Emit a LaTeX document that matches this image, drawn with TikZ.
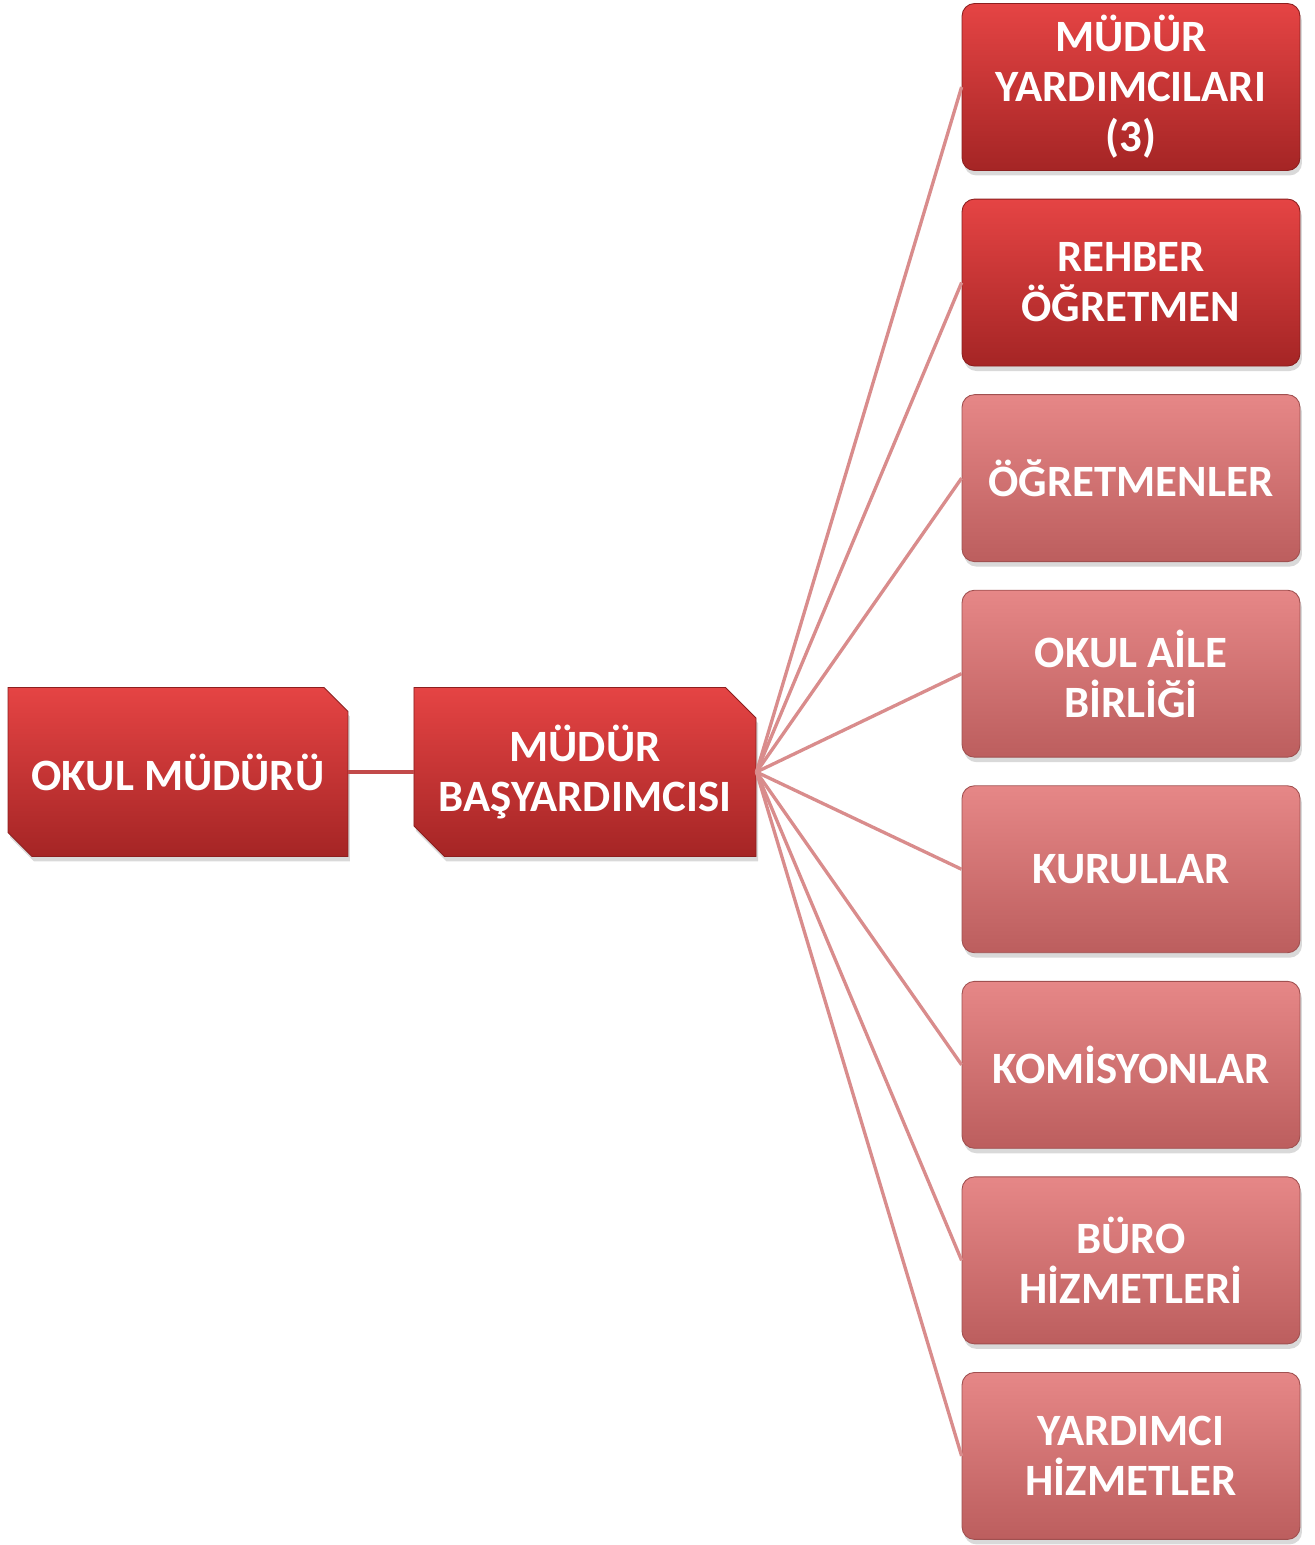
\documentclass[tikz,border=0pt]{standalone}
\usepackage{fontspec}
\setmainfont{Carlito}
\usetikzlibrary{shapes.misc, shadows, positioning}

\definecolor{redtop}{HTML}{E54444}
\definecolor{redbot}{HTML}{A52525}
\definecolor{pinktop}{HTML}{E68787}
\definecolor{pinkbot}{HTML}{BC5E5E}
\definecolor{fanline}{HTML}{D98C8C}
\definecolor{mainline}{HTML}{C24A4A}

\begin{document}
\begin{tikzpicture}[x=0.02cm, y=-0.02cm, node distance=3.912cm, on grid,
	box/.style={text=white, font=\fontsize{25.5}{28.5}\selectfont\bfseries, align=center,
		drop shadow={shadow xshift=0.04cm, shadow yshift=-0.1cm, opacity=0.3}},
	chief/.style={box, chamfered rectangle, chamfered rectangle corners={north east, south west},
		chamfered rectangle xsep=0.5cm, inner sep=0pt, minimum width=6.8cm, minimum height=3.38cm,
		top color=redtop, bottom color=redbot, draw=redbot!85!black, line width=0.5pt},
	unit/.style={box, rectangle, rounded corners=0.25cm, inner sep=0pt,
		minimum width=6.76cm, minimum height=3.34cm, line width=0.5pt},
	dark/.style={unit, top color=redtop, bottom color=redbot, draw=redbot!85!black},
	light/.style={unit, top color=pinktop, bottom color=pinkbot, draw=pinkbot!85!black},
	fan/.style={draw=fanline, line width=1.9pt}]
	\useasboundingbox (0,0) rectangle (1315,1545);
	
	\node[chief] (om) at (178,772) {OKUL MÜDÜRÜ};
	\node[chief] (mb) at (585,772) {MÜDÜR\\BAŞYARDIMCISI};
	
	\node[dark] (my) at (1131,87) {MÜDÜR\\YARDIMCILARI\\(3)};
	\node[dark, below = of my] (rb) {REHBER\\ÖĞRETMEN};
	\node[light, below = of rb] (og) {ÖĞRETMENLER};
	\node[light, below = of og] (oa) {OKUL AİLE\\BİRLİĞİ};
	\node[light, below = of oa] (ku) {KURULLAR};
	\node[light, below = of ku] (ko) {KOMİSYONLAR};
	\node[light, below = of ko] (bh) {BÜRO\\HİZMETLERİ};
	\node[light, below = of bh] (yh) {YARDIMCI\\HİZMETLER};
	
	\draw[mainline, line width=2.6pt] (om.east) -- (mb.west);
	\path[fan] (mb.east) edge (my.west)
	(mb.east) edge (rb.west)
	(mb.east) edge (og.west)
	(mb.east) edge (oa.west)
	(mb.east) edge (ku.west)
	(mb.east) edge (ko.west)
	(mb.east) edge (bh.west)
	(mb.east) edge (yh.west);
\end{tikzpicture}
\end{document}
